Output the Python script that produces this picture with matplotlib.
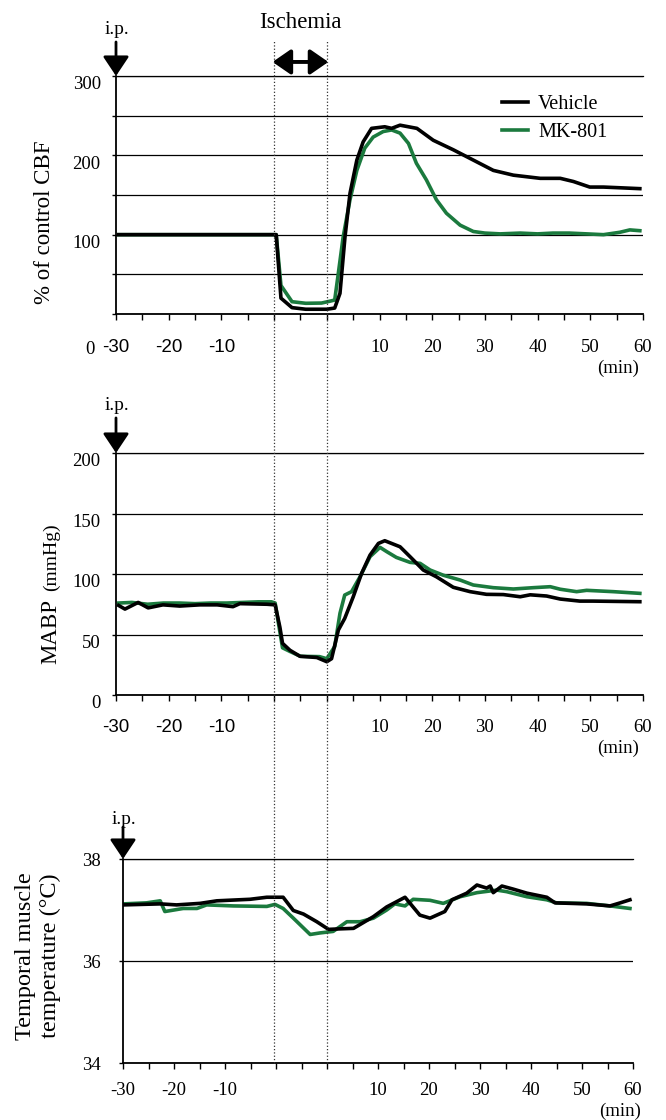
import matplotlib
matplotlib.use('Agg')
import matplotlib.pyplot as plt
from matplotlib.lines import Line2D
from matplotlib.transforms import ScaledTranslation

plt.rcParams['font.family'] = ['Liberation Serif', 'DejaVu Serif']

# time axis: ischemia runs 0-10, tick labels count minutes after reperfusion
tick_pos = [-30, -20, -10, 20, 30, 40, 50, 60, 70]
tick_labels = ['-30', '-20', '-10', '10', '20', '30', '40', '50', '60']
minor_pos = list(range(-30, 71, 5))
ischemia = [0, 10]

GREEN = '#1b7a3e'

# % of control CBF
cbf_veh_t = [-29.5, 0, 0.4, 1.3, 3.4, 6, 10, 11.5, 12.5, 13.45, 14.4, 15.7, 16.9, 18.5,
             21.0, 22.3, 23.9, 27.1, 30.2, 34.0, 37.8, 41.6, 45.4, 50.5, 54.3, 56.8,
             59.9, 62.5, 66, 69.4]
cbf_veh = [100, 100, 100, 20, 8, 6, 6, 7.5, 26, 97, 152, 194, 217, 234,
           236, 234, 238, 234, 219, 207, 194, 181, 175, 171, 171, 167,
           160, 160, 159, 158]
cbf_mk_t = [-29.5, 0, 0.4, 1.3, 3.4, 6, 9, 10.5, 11.5, 12.1, 13.1, 14.4, 15.7, 17.2,
            18.8, 20.7, 22.3, 23.9, 25.5, 27.0, 28.9, 30.8, 32.7, 35.3, 37.8, 40,
            42.9, 46.7, 50, 52.9, 56, 59.3, 62.5, 65.6, 67.5, 69.4]
cbf_mk = [100, 100, 100, 36, 15.5, 13.5, 13.8, 16, 17.6, 47, 97, 144, 181, 209,
          223, 230, 232, 228, 215, 190, 169, 144, 127, 112, 104, 102,
          101, 102, 101, 102, 102, 101, 100, 103, 106, 105]

# MABP (mmHg)
bp_veh_t = [-29.5, -28.3, -25.8, -23.9, -21.1, -17.9, -14.1, -10.8, -7.8, -6.5, -1.35,
            0.2, 1.1, 1.6, 3.0, 4.9, 8.1, 10.0, 10.9, 12.2, 13.4, 15.0, 16.6, 18.2,
            19.8, 21.0, 23.9, 25.8, 28.3, 30.8, 34.0, 37.2, 40.3, 43.5, 46.7, 48.6,
            51.7, 54.3, 58.0, 60.5, 69.4]
bp_veh = [74, 71, 76.5, 72, 74.5, 73.5, 74.5, 74.5, 73, 75.5, 75,
          74.5, 56, 42.7, 37, 32, 31, 27.5, 30, 53.7, 63.3, 81, 100.5, 115.6,
          125.3, 127.5, 122.5, 114.3, 103.3, 97.7, 89, 85.4, 83.2, 83, 81.2, 82.8,
          81.8, 79.3, 77.6, 77.6, 77.1]
bp_mk_t = [-29.5, -27, -24, -21, -18, -15, -12, -9, -6, -3, -0.5, 0.2, 1.1, 1.6, 3.0,
           5.0, 8.6, 10.0, 11.5, 12.5, 13.4, 14.7, 16.3, 18.2, 20.1, 21.4, 23.2, 25.8,
           27.7, 29.6, 32.1, 35.3, 37.8, 41.6, 45.4, 49.2, 52.4, 54.3, 57.4, 59.3,
           64.4, 69.4]
bp_mk = [76, 76.5, 75, 76, 76, 75.5, 76, 76, 76.5, 77, 77, 76, 52, 39, 36,
         32, 31.7, 30, 40, 67.5, 82.6, 85.4, 97.7, 114.3, 122, 118.4, 113.7, 109.6,
         108.8, 103.3, 99, 95, 90.9, 88.7, 87.6, 88.7, 89.5, 87.4, 85.4, 86.5,
         85.4, 84]

# temporal muscle temperature (C)
tmp_veh_t = [-29.9, -22.7, -19.5, -14.9, -11.6, -5.1, -1.8, 1.4, 3.4, 5.4, 8.0, 10.3,
             12.5, 15.2, 19.1, 21.7, 25.3, 28.2, 30.2, 33.1, 34.5, 37.4, 39.4, 41.3,
             42.0, 42.6, 44.3, 46.5, 49.2, 53.1, 54.7, 60.9, 65.5, 67.5, 69.4]
tmp_veh = [37.10, 37.12, 37.10, 37.13, 37.18, 37.21, 37.25, 37.25, 36.99, 36.92, 36.77, 36.62,
           36.63, 36.64, 36.87, 37.06, 37.25, 36.90, 36.84, 36.97, 37.20, 37.33, 37.49, 37.43,
           37.47, 37.34, 37.47, 37.41, 37.33, 37.25, 37.14, 37.12, 37.08, 37.14, 37.20]
tmp_mk_t = [-29.9, -25.4, -22.7, -21.8, -18.2, -15.5, -13.6, -8.4, -1.8, -0.2, 1.4, 3.4,
            6.7, 8.6, 11.2, 13.9, 16.5, 19.1, 21.7, 23.3, 25.3, 26.9, 30.2, 32.8, 36.1,
            39.4, 43.3, 45.2, 49.2, 53.1, 55.0, 60.9, 65.5, 69.4]
tmp_mk = [37.12, 37.14, 37.18, 36.97, 37.03, 37.03, 37.10, 37.08, 37.07, 37.11, 37.03, 36.84,
          36.52, 36.55, 36.58, 36.77, 36.77, 36.84, 37.00, 37.12, 37.08, 37.21, 37.19, 37.13, 37.26,
          37.34, 37.39, 37.36, 37.26, 37.20, 37.14, 37.13, 37.08, 37.03]

fig = plt.figure(figsize=(6.66, 11.2), dpi=100)
W, H = 666, 1120
ax1 = fig.add_axes([116 / W, 1 - 314 / H, 527 / W, 238 / H])
ax2 = fig.add_axes([116 / W, 1 - 695 / H, 527 / W, 242 / H])
ax3 = fig.add_axes([123 / W, 1 - 1063 / H, 510 / W, 204 / H])


def style(ax, ylim, yticks, ylabels, xpad, ypad):
    ax.set_xlim(-30, 70)
    ax.set_ylim(*ylim)
    ax.spines['right'].set_visible(False)
    ax.spines['top'].set_linewidth(0.9)
    ax.spines['left'].set_linewidth(1.3)
    ax.spines['bottom'].set_linewidth(1.3)
    ax.set_xticks(tick_pos)
    ax.set_xticklabels(tick_labels)
    ax.set_xticks(minor_pos, minor=True)
    ax.tick_params(axis='x', which='both', direction='out', length=4, width=1,
                   pad=xpad, labelsize=13.5)
    ax.set_yticks(yticks)
    ax.set_yticklabels(ylabels)
    ax.tick_params(axis='y', length=3, width=1, pad=ypad, labelsize=13.5)
    ax.yaxis.grid(True, color='black', lw=0.9)
    ax.set_axisbelow(True)


# CBF panel
ax1.plot(cbf_mk_t, cbf_mk, color=GREEN, lw=2.6, label='MK-801')
ax1.plot(cbf_veh_t, cbf_veh, color='black', lw=2.6, label='Vehicle')
style(ax1, (0, 300), list(range(0, 301, 50)),
      ['', '', '100', '', '200', '', '300'], 14, 8)
ax1.text(-0.049, -0.151, '0', transform=ax1.transAxes, ha='center', va='center', fontsize=13.5)
h, l = ax1.get_legend_handles_labels()
ax1.legend(h[::-1], l[::-1], loc='upper left', bbox_to_anchor=(0.732, 0.92),
           frameon=False, fontsize=14.5, borderpad=0, borderaxespad=0,
           handlelength=1.3, handletextpad=0.5, labelspacing=0.45)

# MABP panel
ax2.plot(bp_mk_t, bp_mk, color=GREEN, lw=2.6)
ax2.plot(bp_veh_t, bp_veh, color='black', lw=2.6)
style(ax2, (0, 200), list(range(0, 201, 50)),
      ['0', '50', '100', '150', '200'], 13, 8)

# temperature panel
ax3.plot(tmp_mk_t, tmp_mk, color=GREEN, lw=2.6)
ax3.plot(tmp_veh_t, tmp_veh, color='black', lw=2.6)
style(ax3, (34, 38), [34, 36, 38], ['34', '36', '38'], 10, 13)

# negative tick labels of upper panels are set in a sans face
for ax in (ax1, ax2):
    for lab in ax.get_xticklabels()[:3]:
        lab.set_fontfamily(['Liberation Sans', 'DejaVu Sans'])
    for lab in ax.get_yticklabels():
        lab.set_transform(lab.get_transform() + ScaledTranslation(0, -5 / 72, fig.dpi_scale_trans))

# (min) labels
for ax, x, y in ((ax1, 0.953, -0.227), (ax2, 0.953, -0.219), (ax3, 0.975, -0.235)):
    ax.text(x, y, '(min)', transform=ax.transAxes, ha='center', va='center', fontsize=13.5)

# i.p. arrows
for ax, ty, ay in ((ax1, 1.197, 1.143), (ax2, 1.198, 1.145), (ax3, 1.196, 1.157)):
    ax.annotate('', xy=(-30, 1.0), xytext=(-30, ay),
                xycoords=('data', 'axes fraction'), textcoords=('data', 'axes fraction'),
                arrowprops=dict(arrowstyle='-|>,head_length=0.6,head_width=0.4',
                                mutation_scale=20, lw=2, color='black',
                                shrinkA=0, shrinkB=0), annotation_clip=False)
    ax.text(-29.8, ty, 'i.p.', transform=ax.get_xaxis_transform(), ha='center', va='center',
            fontsize=14)

# ischemia marker
ax1.annotate('', xy=(ischemia[1] + 0.3, 1.059), xytext=(ischemia[0] - 0.3, 1.059),
             xycoords=('data', 'axes fraction'), textcoords=('data', 'axes fraction'),
             arrowprops=dict(arrowstyle='<|-|>,head_length=0.55,head_width=0.38',
                             mutation_scale=20, lw=2.8, color='black',
                             shrinkA=0, shrinkB=0), annotation_clip=False)
ax1.text(sum(ischemia) / 2, 1.225, 'Ischemia', transform=ax1.get_xaxis_transform(),
         ha='center', va='center', fontsize=16.5)

# dotted lines through all panels
to_fig = ax1.transData + fig.transFigure.inverted()
for t in ischemia:
    fx = to_fig.transform((t, 0))[0]
    fig.add_artist(Line2D([fx, fx], [1 - 1063 / H, 1 - 40 / H], transform=fig.transFigure,
                          ls=':', lw=0.9, color='#333333'))

# y labels
fig.text(45 / W, 1 - 222 / H, '% of control CBF', rotation=90, ha='center', va='center',
         fontsize=16.5)
fig.text(56 / W, 1 - 632 / H, 'MABP', rotation=90, rotation_mode='anchor',
         ha='center', va='baseline', fontsize=16.5)
fig.text(56 / W, 1 - 557 / H, '(mmHg)', rotation=90, rotation_mode='anchor',
         ha='center', va='baseline', fontsize=14)
fig.text(38 / W, 1 - 956 / H, 'Temporal muscle\ntemperature (\u00b0C)', rotation=90,
         ha='center', va='center', fontsize=17.5, linespacing=1.2)

fig.savefig('out.png', dpi=100)
